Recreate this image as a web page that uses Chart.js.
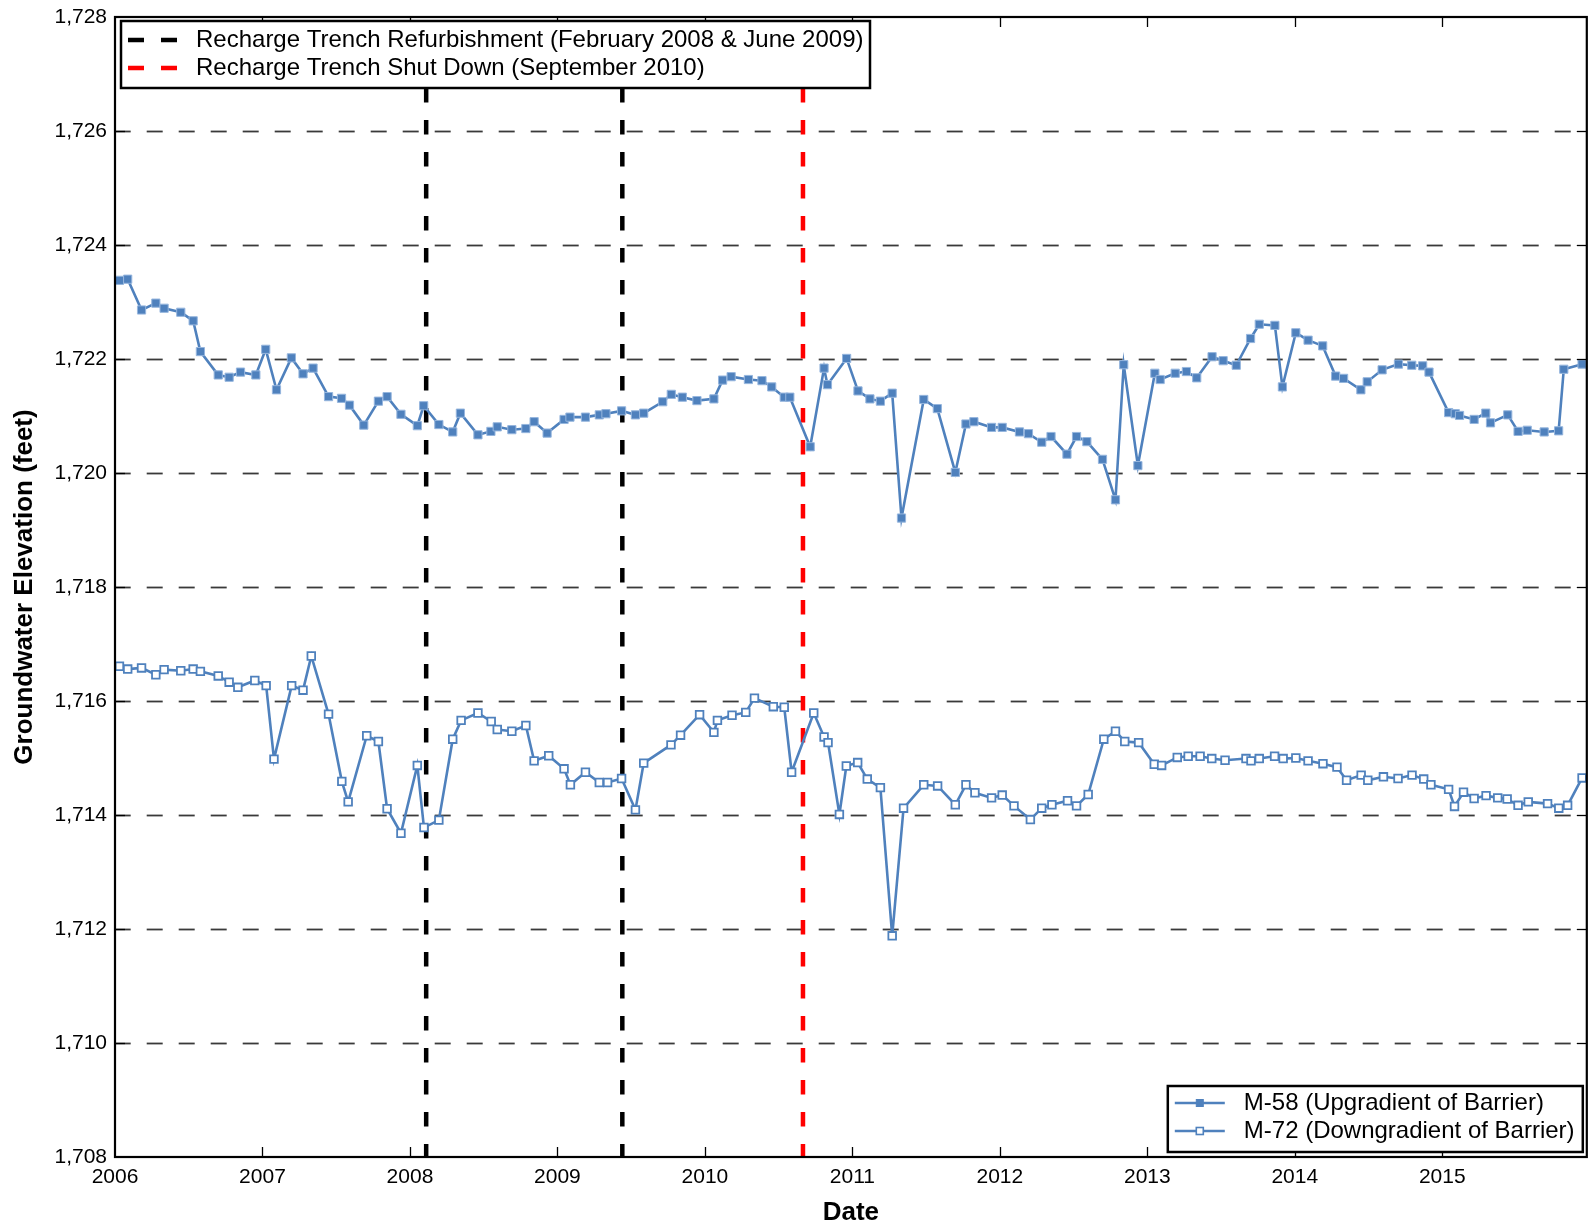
<!DOCTYPE html>
<html>
<head>
<meta charset="utf-8">
<title>Groundwater Elevation M-58 / M-72</title>
<script src="https://cdn.jsdelivr.net/npm/chart.js@4.4.0/dist/chart.umd.min.js"></script>
<style>
  html, body { margin: 0; padding: 0; background: #fff; }
  #wrap { width: 1594px; height: 1228px; }
</style>
</head>
<body>
<div id="wrap"><canvas id="gwChart" width="1594" height="1228"></canvas></div>
<script>
const FONT = "'Liberation Sans', Arial, Helvetica, sans-serif";
const BLUE = '#4F81BD';

// axis ticks (x is in decimal years)
const yearTicks = [2006, 2007, 2008, 2009, 2010, 2011, 2012, 2013, 2014, 2015];
const elevTicks = [1708, 1710, 1712, 1714, 1716, 1718, 1720, 1722, 1724, 1726, 1728];

// M-58 (upgradient)
const m58Dates = [
  2006.030, 2006.086, 2006.180, 2006.277, 2006.333, 2006.446, 2006.530, 2006.579, 2006.700, 2006.774,
  2006.851, 2006.955, 2007.022, 2007.095, 2007.196, 2007.275, 2007.343, 2007.448, 2007.536, 2007.590,
  2007.687, 2007.786, 2007.845, 2007.939, 2008.050, 2008.093, 2008.196, 2008.290, 2008.342, 2008.461,
  2008.549, 2008.592, 2008.691, 2008.786, 2008.842, 2008.930, 2009.045, 2009.085, 2009.190, 2009.284,
  2009.329, 2009.435, 2009.529, 2009.585, 2009.714, 2009.772, 2009.847, 2009.946, 2010.061, 2010.120,
  2010.178, 2010.295, 2010.387, 2010.453, 2010.538, 2010.576, 2010.714, 2010.808, 2010.831, 2010.961,
  2011.038, 2011.119, 2011.190, 2011.270, 2011.333, 2011.484, 2011.576, 2011.698, 2011.770, 2011.824,
  2011.944, 2012.016, 2012.133, 2012.194, 2012.284, 2012.347, 2012.455, 2012.520, 2012.590, 2012.696,
  2012.784, 2012.840, 2012.936, 2013.051, 2013.087, 2013.189, 2013.265, 2013.335, 2013.439, 2013.514,
  2013.603, 2013.700, 2013.759, 2013.865, 2013.916, 2014.007, 2014.090, 2014.189, 2014.277, 2014.331,
  2014.448, 2014.491, 2014.592, 2014.703, 2014.793, 2014.867, 2014.910, 2015.043, 2015.088, 2015.117,
  2015.216, 2015.295, 2015.327, 2015.444, 2015.514, 2015.576, 2015.691, 2015.789, 2015.824, 2015.948
];
const m58Elev = [
  1723.38, 1723.40, 1722.86, 1722.98, 1722.89, 1722.82, 1722.67, 1722.13, 1721.72, 1721.68,
  1721.77, 1721.72, 1722.17, 1721.46, 1722.02, 1721.74, 1721.84, 1721.34, 1721.31, 1721.19,
  1720.84, 1721.26, 1721.34, 1721.03, 1720.83, 1721.18, 1720.85, 1720.72, 1721.05, 1720.67,
  1720.73, 1720.81, 1720.76, 1720.78, 1720.90, 1720.70, 1720.94, 1720.98, 1720.98, 1721.02,
  1721.04, 1721.09, 1721.02, 1721.05, 1721.25, 1721.38, 1721.33, 1721.27, 1721.30, 1721.63,
  1721.69, 1721.64, 1721.62, 1721.51, 1721.33, 1721.33, 1720.46, 1721.84, 1721.55, 1722.01,
  1721.44, 1721.30, 1721.26, 1721.40, 1719.21, 1721.29, 1721.13, 1720.01, 1720.86, 1720.90,
  1720.80, 1720.80, 1720.72, 1720.69, 1720.54, 1720.64, 1720.33, 1720.64, 1720.55, 1720.24,
  1719.53, 1721.90, 1720.13, 1721.75, 1721.64, 1721.75, 1721.78, 1721.67, 1722.04, 1721.97,
  1721.89, 1722.36, 1722.61, 1722.59, 1721.51, 1722.46, 1722.33, 1722.23, 1721.70, 1721.66,
  1721.46, 1721.60, 1721.81, 1721.91, 1721.89, 1721.88, 1721.77, 1721.06, 1721.04, 1721.01,
  1720.94, 1721.05, 1720.88, 1721.02, 1720.73, 1720.75, 1720.72, 1720.74, 1721.82, 1721.91
];

// M-72 (downgradient)
const m72Dates = [
  2006.030, 2006.086, 2006.180, 2006.277, 2006.333, 2006.446, 2006.530, 2006.579, 2006.700, 2006.774,
  2006.833, 2006.948, 2007.025, 2007.078, 2007.198, 2007.275, 2007.331, 2007.448, 2007.538, 2007.581,
  2007.707, 2007.786, 2007.845, 2007.939, 2008.050, 2008.095, 2008.196, 2008.290, 2008.347, 2008.461,
  2008.551, 2008.592, 2008.691, 2008.786, 2008.842, 2008.941, 2009.045, 2009.088, 2009.190, 2009.284,
  2009.340, 2009.435, 2009.529, 2009.585, 2009.770, 2009.835, 2009.964, 2010.061, 2010.085, 2010.184,
  2010.277, 2010.336, 2010.464, 2010.538, 2010.588, 2010.738, 2010.808, 2010.835, 2010.912, 2010.959,
  2011.036, 2011.101, 2011.190, 2011.270, 2011.347, 2011.484, 2011.578, 2011.698, 2011.770, 2011.831,
  2011.944, 2012.016, 2012.096, 2012.207, 2012.284, 2012.353, 2012.459, 2012.520, 2012.599, 2012.705,
  2012.784, 2012.847, 2012.941, 2013.047, 2013.097, 2013.203, 2013.277, 2013.358, 2013.437, 2013.527,
  2013.669, 2013.703, 2013.759, 2013.863, 2013.921, 2014.007, 2014.090, 2014.191, 2014.286, 2014.351,
  2014.450, 2014.495, 2014.601, 2014.700, 2014.795, 2014.874, 2014.923, 2015.043, 2015.083, 2015.144,
  2015.216, 2015.297, 2015.376, 2015.440, 2015.514, 2015.583, 2015.714, 2015.790, 2015.850, 2015.948
];
const m72Elev = [
  1716.61, 1716.56, 1716.58, 1716.46, 1716.55, 1716.53, 1716.56, 1716.52, 1716.44, 1716.33,
  1716.24, 1716.36, 1716.27, 1714.98, 1716.27, 1716.19, 1716.79, 1715.77, 1714.59, 1714.23,
  1715.39, 1715.29, 1714.11, 1713.68, 1714.87, 1713.78, 1713.91, 1715.33, 1715.66, 1715.79,
  1715.64, 1715.50, 1715.47, 1715.57, 1714.95, 1715.04, 1714.81, 1714.53, 1714.75, 1714.57,
  1714.57, 1714.64, 1714.09, 1714.91, 1715.23, 1715.40, 1715.76, 1715.45, 1715.66, 1715.75,
  1715.80, 1716.05, 1715.90, 1715.89, 1714.75, 1715.79, 1715.37, 1715.27, 1714.01, 1714.86,
  1714.92, 1714.63, 1714.48, 1711.88, 1714.12, 1714.53, 1714.51, 1714.18, 1714.53, 1714.39,
  1714.30, 1714.35, 1714.16, 1713.92, 1714.12, 1714.18, 1714.25, 1714.16, 1714.36, 1715.33,
  1715.47, 1715.29, 1715.27, 1714.89, 1714.87, 1715.01, 1715.03, 1715.03, 1714.99, 1714.96,
  1714.99, 1714.95, 1714.99, 1715.03, 1714.99, 1715.00, 1714.95, 1714.90, 1714.84, 1714.61,
  1714.70, 1714.61, 1714.67, 1714.64, 1714.70, 1714.63, 1714.53, 1714.45, 1714.15, 1714.40,
  1714.29, 1714.34, 1714.30, 1714.28, 1714.17, 1714.23, 1714.20, 1714.12, 1714.17, 1714.65
];

// recharge trench events
const refurbDates = [2008.11, 2009.44];   // Feb 2008, June 2009
const shutdownDates = [2010.665];         // Sept 2010

function toPoints(dates, vals) {
    return dates.map((d, i) => ({ x: d, y: vals[i] }));
}

// draw helpers
function hLine(ctx, x1, x2, y) {
    ctx.beginPath();
    ctx.moveTo(x1, y);
    ctx.lineTo(x2, y);
    ctx.stroke();
}
function vLine(ctx, x, y1, y2) {
    ctx.beginPath();
    ctx.moveTo(x, y1);
    ctx.lineTo(x, y2);
    ctx.stroke();
}
function legendBox(ctx, x, y, w, h) {
    ctx.fillStyle = '#fff';
    ctx.fillRect(x, y, w, h);
    ctx.lineWidth = 2.5;
    ctx.strokeStyle = '#000';
    ctx.setLineDash([]);
    ctx.strokeRect(x, y, w, h);
}
function square(ctx, cx, cy, size, fill, stroke, lw) {
    ctx.fillStyle = fill;
    ctx.fillRect(cx - size / 2, cy - size / 2, size, size);
    ctx.lineWidth = lw;
    ctx.strokeStyle = stroke;
    ctx.strokeRect(cx - size / 2, cy - size / 2, size, size);
}

const decorPlugin = {
    id: 'decor',
    beforeDatasetsDraw(chart) {
        const { ctx, chartArea: a, scales } = chart;
        ctx.save();

        // dashed horizontal grid
        ctx.strokeStyle = '#3a3a3a';
        ctx.lineWidth = 1.8;
        ctx.setLineDash([16, 16]);
        ctx.lineDashOffset = 0.3;
        elevTicks.slice(1, -1).forEach(v => {
            hLine(ctx, a.left, a.right, Math.round(scales.y.getPixelForValue(v)) + 0.5);
        });

        // event lines
        ctx.lineWidth = 4.5;
        ctx.setLineDash([14.5, 17.5]);
        ctx.lineDashOffset = 25;
        ctx.strokeStyle = '#000';
        refurbDates.forEach(d => vLine(ctx, scales.x.getPixelForValue(d), a.top, a.bottom));
        ctx.strokeStyle = '#ff0000';
        shutdownDates.forEach(d => vLine(ctx, scales.x.getPixelForValue(d), a.top, a.bottom));
        ctx.restore();
    },
    afterDraw(chart) {
        const { ctx, chartArea: a, scales } = chart;
        ctx.save();
        ctx.setLineDash([]);

        // tick marks, pointing inward
        ctx.strokeStyle = '#000';
        ctx.lineWidth = 1.3;
        yearTicks.slice(1).forEach(v => {
            const x = Math.round(scales.x.getPixelForValue(v)) + 0.5;
            vLine(ctx, x, a.bottom, a.bottom - 10);
            vLine(ctx, x, a.top, a.top + 10);
        });
        elevTicks.slice(1, -1).forEach(v => {
            const y = Math.round(scales.y.getPixelForValue(v)) + 0.5;
            hLine(ctx, a.left, a.left + 10, y);
            hLine(ctx, a.right, a.right - 10, y);
        });

        // frame
        ctx.lineWidth = 2.2;
        ctx.strokeRect(a.left, a.top, a.right - a.left, a.bottom - a.top);

        ctx.font = '24px ' + FONT;
        ctx.textBaseline = 'middle';
        ctx.textAlign = 'left';

        // event legend (top left)
        let lx = a.left + 6, ly = a.top + 4;
        legendBox(ctx, lx, ly, 749, 67);
        const events = [
            { label: 'Recharge Trench Refurbishment (February 2008 & June 2009)', color: '#000' },
            { label: 'Recharge Trench Shut Down (September 2010)', color: '#ff0000' }
        ];
        events.forEach((e, i) => {
            const y = ly + 19 + i * 28;
            ctx.strokeStyle = e.color;
            ctx.lineWidth = 4.5;
            ctx.setLineDash([16, 17]);
            ctx.lineDashOffset = 0;
            hLine(ctx, lx + 7, lx + 60, y);
            ctx.setLineDash([]);
            ctx.fillStyle = '#000';
            ctx.fillText(e.label, lx + 75, y);
        });

        // series legend (bottom right)
        const w = 415, h = 66;
        lx = a.right - 4 - w;
        ly = a.bottom - 5 - h;
        legendBox(ctx, lx, ly, w, h);
        chart.data.datasets.forEach((ds, i) => {
            const y = ly + 17 + i * 28;
            ctx.strokeStyle = BLUE;
            ctx.lineWidth = 2.6;
            hLine(ctx, lx + 7, lx + 57, y);
            if (i === 0) square(ctx, lx + 32, y, 7, BLUE, BLUE, 1);
            else square(ctx, lx + 32, y, 7, '#fff', BLUE, 1.6);
            ctx.fillStyle = '#000';
            ctx.fillText(ds.label, lx + 76, y);
        });
        ctx.restore();
    }
};

const ctx = document.getElementById('gwChart').getContext('2d');
new Chart(ctx, {
    type: 'line',
    data: {
        datasets: [
            {
                label: 'M-58 (Upgradient of Barrier)',
                data: toPoints(m58Dates, m58Elev),
                borderColor: BLUE,
                borderWidth: 2.6,
                pointStyle: 'rect',
                pointRadius: 5.8,
                pointBackgroundColor: BLUE,
                pointBorderColor: 'rgba(150,182,222,1)',
                pointBorderWidth: 1,
                tension: 0
            },
            {
                label: 'M-72 (Downgradient of Barrier)',
                data: toPoints(m72Dates, m72Elev),
                borderColor: BLUE,
                borderWidth: 2.6,
                pointStyle: 'rect',
                pointRadius: 5.4,
                pointBackgroundColor: '#fff',
                pointBorderColor: BLUE,
                pointBorderWidth: 1.8,
                tension: 0
            }
        ]
    },
    options: {
        responsive: false,
        animation: false,
        devicePixelRatio: 1,
        layout: { padding: { top: 17, right: 2, left: 0, bottom: 0 } },
        plugins: {
            legend: { display: false },
            tooltip: { enabled: false }
        },
        scales: {
            x: {
                type: 'linear',
                min: 2006,
                max: 2015.98,
                afterBuildTicks: s => { s.ticks = yearTicks.map(v => ({ value: v })); },
                afterFit: s => { s.height = 71; s.paddingLeft = 0; s.paddingRight = 0; },
                grid: { display: false, drawTicks: false },
                border: { display: false },
                ticks: {
                    callback: v => String(v),
                    font: { family: FONT, size: 21 },
                    color: '#000',
                    padding: 8,
                    maxRotation: 0,
                    autoSkip: false
                },
                title: {
                    display: true,
                    text: 'Date',
                    font: { family: FONT, size: 26, weight: 'bold' },
                    color: '#000',
                    padding: { top: 0, bottom: 0 }
                }
            },
            y: {
                type: 'linear',
                min: 1708,
                max: 1728,
                afterBuildTicks: s => { s.ticks = elevTicks.map(v => ({ value: v })); },
                afterFit: s => { s.width = 115; s.paddingTop = 0; s.paddingBottom = 0; },
                grid: { display: false, drawTicks: false },
                border: { display: false },
                ticks: {
                    callback: v => v.toLocaleString('en-US'),
                    font: { family: FONT, size: 21 },
                    color: '#000',
                    padding: 8
                },
                title: {
                    display: true,
                    text: 'Groundwater Elevation (feet)',
                    font: { family: FONT, size: 26, weight: 'bold' },
                    color: '#000',
                    padding: { top: 9, bottom: 0 }
                }
            }
        }
    },
    plugins: [decorPlugin]
});
</script>
</body>
</html>
